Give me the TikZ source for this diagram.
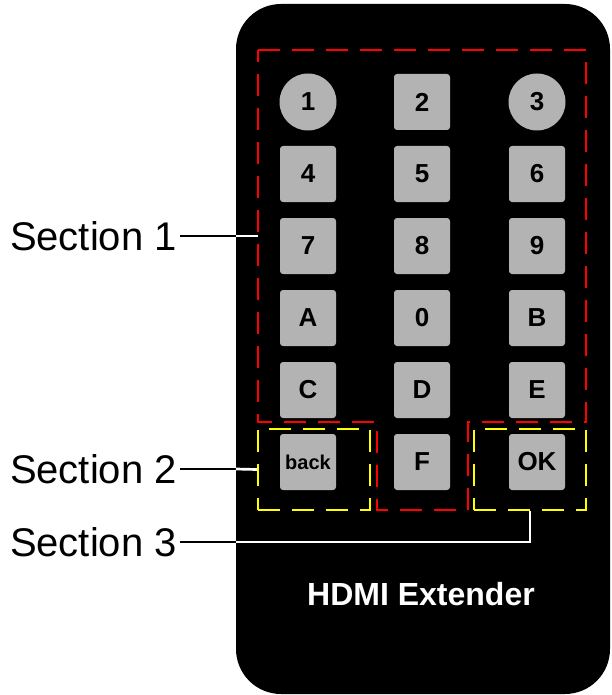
\documentclass[tikz,border=0pt]{standalone}
\usepackage{fontspec}
\setmainfont{Liberation Sans}
\usetikzlibrary{positioning}
\definecolor{keygray}{HTML}{B3B3B3}
\definecolor{r1}{HTML}{FF0000}
\definecolor{y1}{HTML}{FFFF00}
\tikzset{
  keybox/.style={fill=keygray,rounded corners=3pt,minimum size=56pt,inner sep=0pt,
    font=\fontsize{26}{31}\selectfont\bfseries},
  keyround/.style={keybox,circle,minimum size=57pt},
  zone/.style={line width=2pt,dash pattern=on 22pt off 12pt},
  zonebox/.style={zone,draw=y1,minimum width=112pt,minimum height=81pt,inner sep=0pt},
  callout/.style={font=\fontsize{40}{48}\selectfont,inner sep=3pt,anchor=east},
  lead/.style={line width=2.7pt}
}

\begin{document}
\begin{tikzpicture}[x=1pt,y=-1pt]
  \useasboundingbox (0,0) rectangle (611,695);
  \node[fill=black,rounded corners=45pt,minimum width=374pt,minimum height=690pt,inner sep=0pt] (remote) at (423,349) {};
  % keys
  \node[keyround] (k1) at (308,102) {1};
  \node[keybox]   (k2) at (422,102) {2};
  \node[keyround] (k3) at (537,102) {3};
  \foreach \a/\b/\c [count=\r from 1] in {4/5/6,7/8/9,A/0/B,C/D/E}{
    \node[keybox] (k\a) at (308,102+72*\r) {\a};
    \node[keybox] (k\b) at (422,102+72*\r) {\b};
    \node[keybox] (k\c) at (537,102+72*\r) {\c};
  }
  \node[keybox,font=\fontsize{20}{24}\selectfont\bfseries] (kback) at (308,462) {back};
  \node[keybox] (kF)  at (422,462) {F};
  \node[keybox] (kOK) at (537,462) {OK};
  % sections
  \draw[zone,r1] (258,50) -| (586,422) -- (468,422) |- (377,510) |- (258,422) -- cycle;
  \coordinate (z1) at (258,236);
  \node[zonebox] (z2) at (314,469.5) {};
  \node[zonebox] (z3) at (530,469.5) {};
  \node[white,font=\fontsize{32}{38}\selectfont\bfseries] (title) at (421,594) {HDMI Extender};
  % callouts
  \node[callout] (sec1) at (180,236) {Section 1};
  \node[callout] (sec2) at (180,469) {Section 2};
  \node[callout] (sec3) at (180,542) {Section 3};
  \draw[lead] (sec1.east) -- (sec1.east -| remote.west);
  \draw[lead,white] (sec1.east -| remote.west) -- (z1);
  \draw[lead] (sec2.east) -- (sec2.east -| remote.west);
  \draw[lead,white] (sec2.east -| remote.west) -- (z2.west);
  \draw[lead] (sec3.east) -- (sec3.east -| remote.west);
  \draw[lead,white] (sec3.east -| remote.west) -| (z3.south);
\end{tikzpicture}
\end{document}
